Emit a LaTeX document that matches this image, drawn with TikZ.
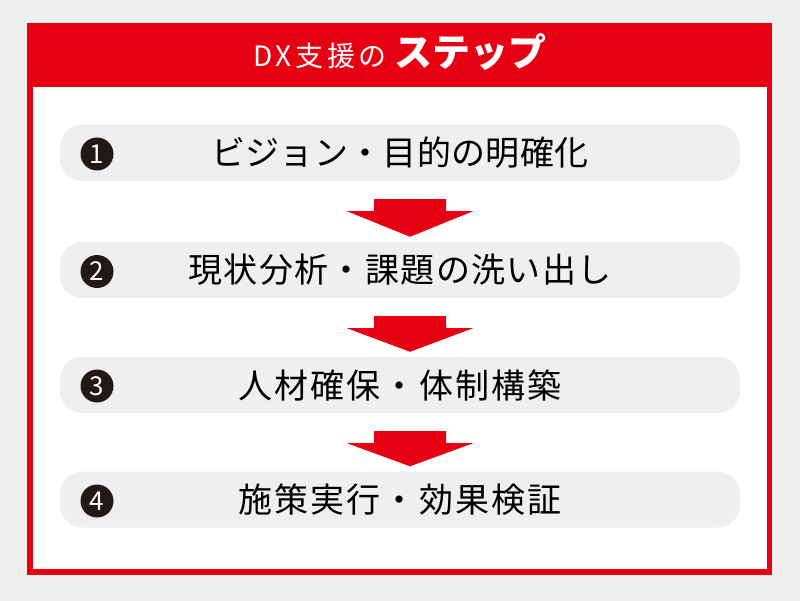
\documentclass[tikz,border=0pt]{standalone}
\usepackage{fontspec}
\setmainfont{Noto Sans CJK JP}
\usetikzlibrary{calc}
\definecolor{bggray}{HTML}{EFEFEF}
\definecolor{dxred}{HTML}{E60012}
\definecolor{inkblack}{HTML}{231815}
\tikzset{
  pill/.style={fill=bggray, draw=none, rounded corners=22pt, minimum width=680pt,
    minimum height=56pt, inner sep=0pt, text=black,
    font=\fontsize{34}{40}\selectfont\addfontfeature{LetterSpace=#1}},
  pill/.default=6,
  numc/.style={circle, fill=inkblack, minimum size=33pt, inner sep=0pt, text=white,
    font=\fontsize{26}{26}\selectfont},
}
\newcommand\blockarrow[2]{%
  \fill[dxred] ($(#1.south)+(-26,18)$) -- ($(#1.south)+(46,18)$) -- ($(#1.south)+(46,30)$)
    -- ($(#1.south)+(73,30)$) -- ($(#2.north)+(10,-5)$) -- ($(#1.south)+(-53,30)$)
    -- ($(#1.south)+(-26,30)$) -- cycle;}
\begin{document}
\begin{tikzpicture}[x=1pt,y=-1pt]
\useasboundingbox (0,0) rectangle (800,601);
\fill[bggray] (0,0) rectangle (800,601);
\fill[dxred] (27,23) rectangle (772,575);
\fill[white] (33,87) rectangle (767,569);
\node[text=white, anchor=base, inner sep=0pt] (title) at (400,67)
  {{\fontsize{28}{30}\selectfont\addfontfeature{LetterSpace=13}DX支援の}\hspace{8pt}{\bfseries\fontsize{38}{40}\selectfont ステップ}};
\node[pill=1] (s1) at (400,153) {ビジョン・目的の明確化};
\node[pill=4] (s2) at (400,270) {現状分析・課題の洗い出し};
\node[pill] (s3) at (400,385) {人材確保・体制構築};
\node[pill] (s4) at (400,499.5) {施策実行・効果検証};
\node[numc] (n1) at (97,154) {1};
\node[numc] (n2) at (97,271.5) {2};
\node[numc] (n3) at (97,386) {3};
\node[numc] (n4) at (97,501) {4};
\blockarrow{s1}{s2}
\blockarrow{s2}{s3}
\blockarrow{s3}{s4}
\end{tikzpicture}
\end{document}
